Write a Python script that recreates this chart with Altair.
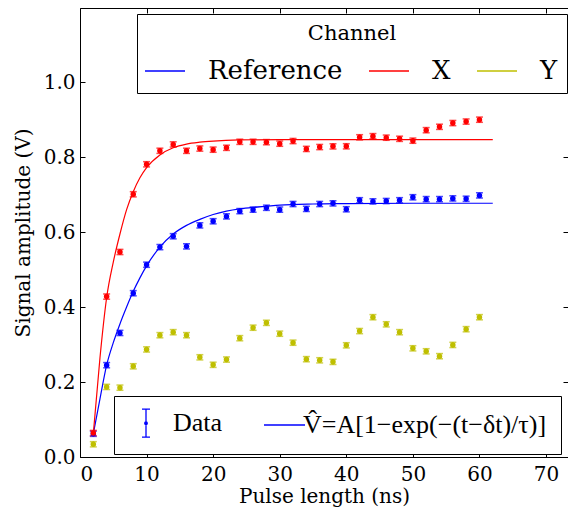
import altair as alt
import pandas as pd

# ---------------- data ----------------
t_data = [2, 4, 6, 8, 10, 12, 14, 16, 18, 20, 22, 24, 26, 28, 30,
          32, 34, 36, 38, 40, 42, 44, 46, 48, 50, 52, 54, 56, 58, 60]
ref_vals = [0.062, 0.245, 0.331, 0.437, 0.513, 0.560, 0.589, 0.562, 0.618, 0.629,
            0.642, 0.656, 0.660, 0.665, 0.660, 0.675, 0.662, 0.675, 0.677, 0.661,
            0.685, 0.682, 0.683, 0.685, 0.693, 0.688, 0.688, 0.690, 0.689, 0.698]
x_vals = [0.064, 0.428, 0.547, 0.701, 0.781, 0.817, 0.834, 0.817, 0.823, 0.820,
          0.825, 0.841, 0.841, 0.840, 0.836, 0.843, 0.822, 0.827, 0.829, 0.829,
          0.853, 0.856, 0.852, 0.849, 0.844, 0.872, 0.881, 0.891, 0.895, 0.900]
y_vals = [0.034, 0.187, 0.185, 0.242, 0.287, 0.325, 0.333, 0.325, 0.266, 0.246,
          0.260, 0.317, 0.345, 0.358, 0.329, 0.305, 0.261, 0.258, 0.254, 0.298,
          0.336, 0.373, 0.354, 0.333, 0.290, 0.282, 0.269, 0.299, 0.341, 0.373]
error_bar = 0.007

# fitted curves
fit_t_ref = [2, 3, 4, 5, 6, 7, 8, 9, 10, 12, 14, 16, 18, 20, 22, 24, 26, 28, 30, 35, 40, 50, 62]
fit_ref = [0.062, 0.155, 0.245, 0.305, 0.355, 0.400, 0.442, 0.478, 0.510, 0.560, 0.595, 0.618,
           0.634, 0.647, 0.656, 0.662, 0.666, 0.669, 0.672, 0.675, 0.676, 0.677, 0.677]
fit_t_x = [2, 3, 4, 5, 6, 7, 8, 9, 10, 12, 14, 16, 18, 20, 24, 30, 62]
fit_x = [0.062, 0.265, 0.425, 0.520, 0.595, 0.660, 0.708, 0.745, 0.772, 0.806, 0.825, 0.835,
         0.840, 0.843, 0.846, 0.847, 0.847]

channels = ["Reference", "X", "Y"]
channel_colors = ["#0000ff", "#ff0000", "#bfbf00"]
legend_title = "Channel"
label_data = "Data"
label_fit = "V\u0302=A[1\u2212exp(\u2212(t\u2212\u03b4t)/\u03c4)]"
x_ticks = [0, 10, 20, 30, 40, 50, 60, 70]
y_ticks = [0.0, 0.2, 0.4, 0.6, 0.8, 1.0]
x_title = "Pulse length (ns)"
y_title = "Signal amplitude (V)"

# ---------------- tables ----------------
rows = []
for name, vals in zip(channels, [ref_vals, x_vals, y_vals]):
    for t, v in zip(t_data, vals):
        rows.append({"t": t, "v": v, "lo": v - error_bar, "hi": v + error_bar, "channel": name})
pts = pd.DataFrame(rows)

fit_rows = []
for name, ts, vs in [("Reference", fit_t_ref, fit_ref), ("X", fit_t_x, fit_x)]:
    for t, v in zip(ts, vs):
        fit_rows.append({"t": t, "v": v, "channel": name})
fits = pd.DataFrame(fit_rows)

legend_df = pd.DataFrame({"kind": [label_data, label_fit]})

W, H = 488, 449
FONT = "DejaVu Serif"
xscale = alt.Scale(domain=[0, 73.3], nice=False, zero=False)
yscale = alt.Scale(domain=[0, 1.198], nice=False, zero=False)
cscale = alt.Scale(domain=channels, range=channel_colors)


def tick_axis(orient, offset, values, domain=False):
    return alt.Axis(orient=orient, offset=offset, values=values, labels=False, domain=domain,
                    domainColor="black", domainWidth=1,
                    grid=False, ticks=True, tickSize=5, tickColor="black", tickWidth=1,
                    title=None)


axis_x_main = alt.Axis(orient="bottom", values=x_ticks, ticks=False, domain=True,
                       domainColor="black", domainWidth=1, grid=False,
                       labelFont=FONT, labelFontSize=20, labelColor="black", labelPadding=7,
                       title=x_title, titleFont=FONT, titleFontSize=20,
                       titleFontWeight="normal", titleColor="black", titlePadding=2)
axis_y_main = alt.Axis(orient="left", values=y_ticks, format=".1f", ticks=False, domain=True,
                       domainColor="black", domainWidth=1,
                       grid=False, labelFont=FONT, labelFontSize=20, labelColor="black",
                       labelPadding=5, title=y_title, titleFont=FONT, titleFontSize=20,
                       titleFontWeight="normal", titleColor="black", titlePadding=10)

line_sym = "M-1.4,0H2.6"
color_legend = alt.Legend(
    title=legend_title, orient="none", legendX=57, legendY=6, direction="horizontal",
    titleAnchor="middle", titleFont=FONT, titleFontSize=21, titleFontWeight="normal",
    titleColor="black", titlePadding=14, labelFont=FONT, labelFontSize=26,
    labelColor="black", labelOffset=36, columnPadding=23, symbolType=line_sym,
    symbolSize=400, symbolStrokeWidth=1.3, padding=9, fillColor="white",
    strokeColor="black", labelLimit=400)

errbar_sym = ("M0.5,-1.4L0.5,1.4M0.1,-1.4L0.9,-1.4M0.1,1.4L0.9,1.4"
              "M0.63,0A0.13,0.13,0,1,1,0.37,0A0.13,0.13,0,1,1,0.63,0")
fit_sym = "M-0.7,0H3.4"
kind_legend = alt.Legend(
    title=None, orient="none", legendX=34, legendY=388, direction="horizontal",
    labelFont="Liberation Serif", labelFontSize=26, labelColor="black", labelOffset=19,
    columnPadding=35, symbolSize=400, symbolStrokeWidth=1.3, symbolStrokeColor="blue",
    symbolFillColor="blue", symbolOpacity=1, padding=14, fillColor="white",
    strokeColor="black", labelLimit=400)

lines = alt.Chart(fits).mark_line(strokeWidth=1.2, interpolate="monotone").encode(
    x=alt.X("t:Q", scale=xscale, axis=axis_x_main),
    y=alt.Y("v:Q", scale=yscale, axis=axis_y_main),
    color=alt.Color("channel:N", scale=cscale, legend=color_legend),
    detail="channel:N",
)

bars = alt.Chart(pts).mark_rule(strokeWidth=1.5).encode(
    x=alt.X("t:Q", scale=xscale, axis=tick_axis("top", -H, x_ticks)),
    y=alt.Y("lo:Q", scale=yscale, axis=tick_axis("right", -W, y_ticks)),
    y2="hi:Q",
    color=alt.Color("channel:N", scale=cscale, legend=None),
)

caps_lo = alt.Chart(pts).mark_tick(orient="horizontal", size=7, thickness=1.5).encode(
    x=alt.X("t:Q", scale=xscale, axis=tick_axis("bottom", -H, x_ticks, domain=True)),
    y=alt.Y("lo:Q", scale=yscale, axis=tick_axis("left", -W, y_ticks)),
    color=alt.Color("channel:N", scale=cscale, legend=None),
)

caps_hi = alt.Chart(pts).mark_tick(orient="horizontal", size=7, thickness=1.5).encode(
    x=alt.X("t:Q", scale=xscale, axis=None),
    y=alt.Y("hi:Q", scale=yscale, axis=None),
    color=alt.Color("channel:N", scale=cscale, legend=None),
)

dots = alt.Chart(pts).mark_circle(size=30, opacity=1).encode(
    x=alt.X("t:Q", scale=xscale, axis=None),
    y=alt.Y("v:Q", scale=yscale, axis=None),
    color=alt.Color("channel:N", scale=cscale, legend=None),
)

dummy = alt.Chart(legend_df).mark_point(filled=False, color="blue", opacity=0).encode(
    shape=alt.Shape("kind:N", scale=alt.Scale(domain=[label_data, label_fit],
                                              range=[errbar_sym, fit_sym]),
                    legend=kind_legend),
)

chart = alt.layer(lines, bars, caps_lo, caps_hi, dots, dummy).resolve_axis(
    x="independent", y="independent"
).properties(
    width=W, height=H,
    autosize=alt.AutoSizeParams(type="none"),
    padding={"left": 72, "top": 0, "right": 0, "bottom": 51},
).configure_view(stroke="transparent", strokeWidth=0).configure(background="white")

chart.save("out.html", embed_options={"renderer": "svg", "actions": False})
